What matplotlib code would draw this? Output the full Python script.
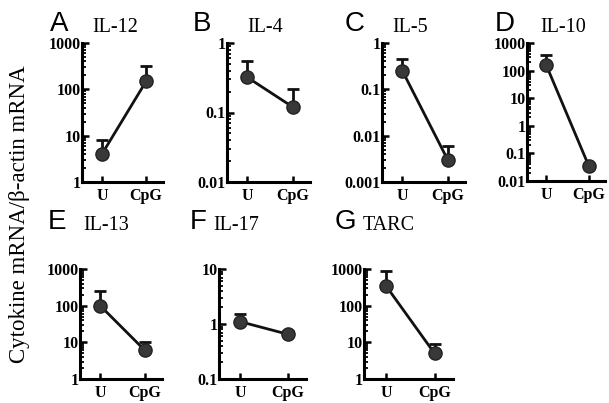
import matplotlib
matplotlib.use('Agg')
import matplotlib.pyplot as plt
import numpy as np

# panel data: U vs CpG, mean and upper error (top of bar)
letters = ['A', 'B', 'C', 'D', 'E', 'F', 'G']
names = ['IL-12', 'IL-4', 'IL-5', 'IL-10', 'IL-13', 'IL-17', 'TARC']
conds = ['U', 'CpG']
means = [[4, 150], [0.32, 0.12], [0.25, 0.003], [160, 0.035],
         [100, 6], [1.1, 0.65], [350, 5]]
tops = [[8, 320], [0.55, 0.22], [0.45, 0.006], [380, 0.04],
        [250, 10], [1.55, 0.75], [900, 9]]
ylims = [(1, 1000), (0.01, 1), (0.001, 1), (0.01, 1000),
         (1, 1000), (0.1, 10), (1, 1000)]
ylabels = [['1', '10', '100', '1000'], ['0.01', '0.1', '1'],
           ['0.001', '0.01', '0.1', '1'], ['0.01', '0.1', '1', '10', '100', '1000'],
           ['1', '10', '100', '1000'], ['0.1', '1', '10'], ['1', '10', '100', '1000']]

# axes boxes in pixels: left, top, right, bottom
boxes = [(82, 43, 163, 182), (227, 43, 310, 182), (382, 43, 465, 182),
         (527, 43, 605, 181), (80, 269, 162, 379), (219, 269, 306, 379),
         (364, 269, 453, 379)]
# where the panel letter and title sit (pixels: letter x, title x, y centre)
letter_x = [50, 193, 345, 495, 48, 190, 335]
title_x = [92, 247, 392, 540, 83, 213, 363]
head_y = [24, 24, 24, 24, 222, 222, 222]

W, H = 609, 403
plt.rcParams['font.family'] = ['Liberation Serif', 'DejaVu Serif']
fig = plt.figure(figsize=(W / 100, H / 100), dpi=100)

for i in range(7):
    l, t, r, b = boxes[i]
    ax = fig.add_axes([l / W, 1 - b / H, (r - l) / W, (b - t) / H])
    x = np.arange(2)
    m = np.array(means[i])
    up = np.array(tops[i]) - m
    ax.errorbar(x, m, yerr=[np.zeros(2), up], fmt='none', ecolor='#111111',
                elinewidth=2, capsize=4, capthick=2, zorder=2)
    ax.plot(x, m, color='#111111', lw=2, zorder=3)
    ax.plot(x, m, 'o', ms=9.5, color='#383838', mec='#222222', mew=1, zorder=4)
    ax.set_yscale('log')
    ax.set_ylim(*ylims[i])
    ax.set_xlim(-0.45, 1.38)
    ax.set_xticks(x)
    ax.set_xticklabels(conds, fontsize=11.5, fontweight='bold')
    lo, hi = ylims[i]
    yt = [10.0 ** k for k in range(int(round(np.log10(lo))), int(round(np.log10(hi))) + 1)]
    ax.set_yticks(yt)
    ax.set_yticklabels(ylabels[i], fontsize=11.5, fontweight='bold')
    ax.yaxis.set_minor_locator(matplotlib.ticker.LogLocator(base=10, subs=np.arange(2, 10)))
    ax.yaxis.set_minor_formatter(matplotlib.ticker.NullFormatter())
    for s in ['top', 'right']:
        ax.spines[s].set_visible(False)
    ax.spines['left'].set_linewidth(2.2)
    ax.spines['bottom'].set_linewidth(2.2)
    ax.tick_params(axis='y', which='major', direction='in', length=5, width=1.8, pad=1)
    ax.tick_params(axis='y', which='minor', direction='in', length=3, width=1.3)
    ax.tick_params(axis='x', direction='in', length=4, width=1.8, pad=4)
    # panel letter and title
    fig.text(letter_x[i] / W, 1 - head_y[i] / H, letters[i], fontsize=20,
             family='Liberation Sans', va='center', ha='left')
    fig.text(title_x[i] / W, 1 - (head_y[i] + 3) / H, names[i], fontsize=14.5,
             va='center', ha='left')

fig.text(20 / W, 1 - 214 / H, 'Cytokine mRNA/\u03b2-actin mRNA', rotation=90,
         fontsize=16.5, va='center', ha='center')

fig.savefig('out.png', dpi=100, facecolor='white')
